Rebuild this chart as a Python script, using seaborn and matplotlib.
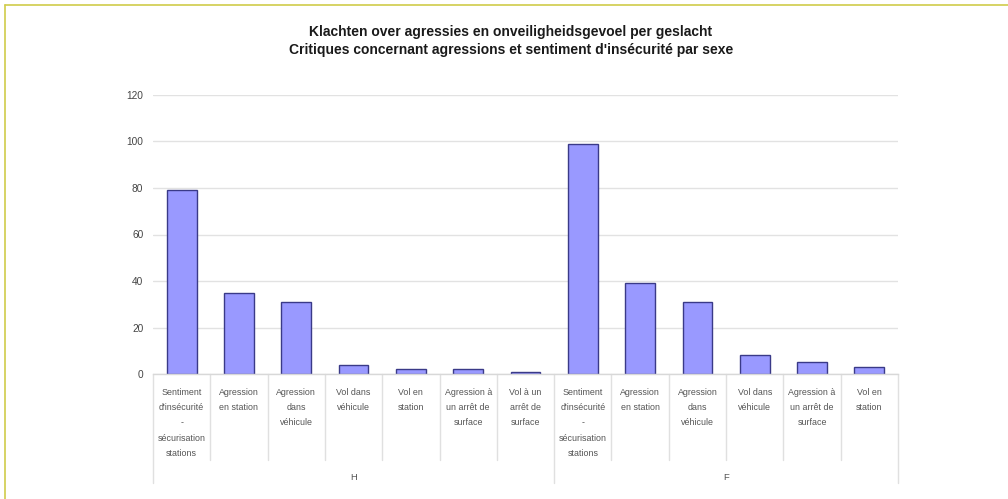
import matplotlib
matplotlib.use("Agg")
import matplotlib.pyplot as plt
from matplotlib.lines import Line2D
from matplotlib.transforms import blended_transform_factory
import seaborn as sns
import pandas as pd

# Complaint categories per sex (H = hommes, F = femmes)
labels_h = [
    "Sentiment\nd'insécurité\n-\nsécurisation\nstations",
    "Agression\nen station",
    "Agression\ndans\nvéhicule",
    "Vol dans\nvéhicule",
    "Vol en\nstation",
    "Agression à\nun arrêt de\nsurface",
    "Vol à un\narrêt de\nsurface",
]
values_h = [79, 35, 31, 4, 2, 2, 1]

labels_f = [
    "Sentiment\nd'insécurité\n-\nsécurisation\nstations",
    "Agression\nen station",
    "Agression\ndans\nvéhicule",
    "Vol dans\nvéhicule",
    "Agression à\nun arrêt de\nsurface",
    "Vol en\nstation",
]
values_f = [99, 39, 31, 8, 5, 3]

groups = ["H", "F"]
y_ticks = [0, 20, 40, 60, 80, 100, 120]

title = ("Klachten over agressies en onveiligheidsgevoel per geslacht\n"
         "Critiques concernant agressions et sentiment d'insécurité par sexe")

sns.set_theme(style="white")
plt.rcParams["font.family"] = ["Liberation Sans", "DejaVu Sans"]

rows = []
for g, labs, vals in ((groups[0], labels_h, values_h), (groups[1], labels_f, values_f)):
    for lab, v in zip(labs, vals):
        rows.append({"key": f"{g}{len(rows):02d}", "label": lab, "group": g, "value": v})
df = pd.DataFrame(rows)

fig = plt.figure(figsize=(10.08, 4.99), dpi=100)
ax = fig.add_axes([153 / 1008, 1 - 374 / 499, (898 - 153) / 1008, (374 - 95) / 499])

sns.barplot(data=df, x="key", y="value", order=list(df["key"]), ax=ax,
            color="#9999ff", edgecolor="#3a3a88", linewidth=1.0, width=0.52,
            saturation=1)

ax.set_ylim(0, 120)
ax.set_xlim(-0.5, len(df) - 0.5)
ax.set_yticks(y_ticks)
ax.set_yticklabels([str(t) for t in y_ticks], fontsize=7.3, color="#444444")
ax.tick_params(axis="y", length=0, pad=7)
ax.yaxis.grid(True, color="#e2e2e2", linewidth=1.0)
ax.set_axisbelow(True)
for s in ("top", "right", "left"):
    ax.spines[s].set_visible(False)
ax.spines["bottom"].set_color("#d8d8d8")
ax.spines["bottom"].set_linewidth(1.0)
ax.set_xlabel("")
ax.set_ylabel("")

ax.set_xticks(range(len(df)))
ax.set_xticklabels(df["label"], fontsize=6.4, color="#555555",
                   linespacing=1.9, va="top")
ax.tick_params(axis="x", length=0, pad=10)

# Category separators below the axis and longer group separators
trans = blended_transform_factory(ax.transData, ax.transAxes)
n_h = len(labels_h)
n = len(df)
for i in range(n + 1):
    xb = i - 0.5
    long_line = i in (0, n_h, n)
    y_end = -0.39 if long_line else -0.31
    ax.add_line(Line2D([xb, xb], [0, y_end], transform=trans, color="#e0e0e0",
                       linewidth=1.0, clip_on=False))

# Group labels
ax.text((n_h - 1) / 2, -0.371, groups[0], transform=trans, ha="center", va="center",
        fontsize=6.8, color="#555555")
ax.text(n_h + (n - n_h - 1) / 2, -0.371, groups[1], transform=trans, ha="center",
        va="center", fontsize=6.8, color="#555555")

fig.text(511 / 1008, 1 - 41 / 499, title, ha="center", va="center",
         fontsize=10.0, fontweight="bold", color="#1a1a1a", linespacing=1.4)

# Page frame
frame_color = "#d0cc4a"
fig.add_artist(Line2D([5 / 1008, 1], [1 - 5 / 499, 1 - 5 / 499],
                      transform=fig.transFigure, color=frame_color, linewidth=1.2))
fig.add_artist(Line2D([5 / 1008, 5 / 1008], [0, 1 - 5 / 499],
                      transform=fig.transFigure, color=frame_color, linewidth=1.2))

fig.savefig("out.png", dpi=100, facecolor="white")
